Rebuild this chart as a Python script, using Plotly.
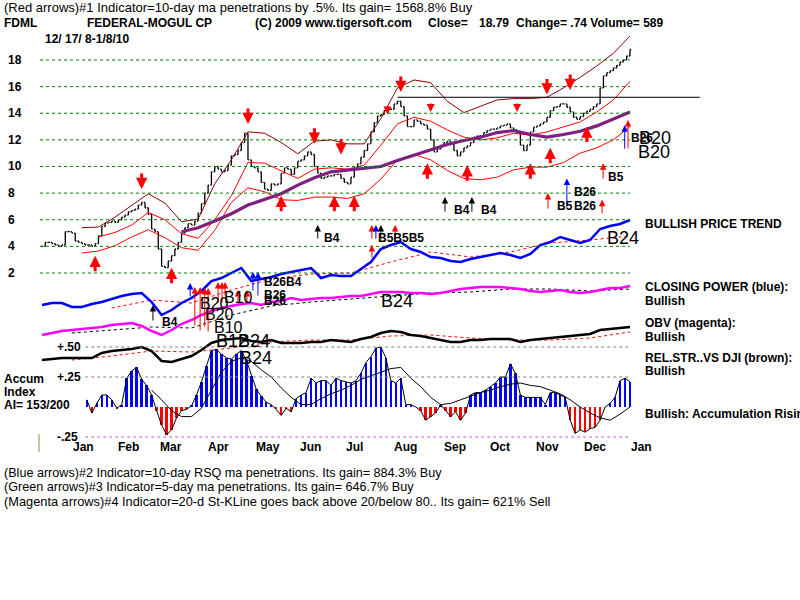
import plotly.graph_objects as go

# ------------------------------------------------------------------ DATA
# daily closes (one bar per sample), Dec-2008 .. Jan-2010
closes = [
    4.0, 4.3, 4.3, 4.2, 4.1, 4.0, 4.1, 5.1, 5.1, 5.0,
    4.4, 4.3, 4.2, 4.1, 4.1, 4.0, 4.2, 4.8, 5.5, 5.75,
    5.8, 5.9, 5.8, 6.0, 6.2, 6.35, 6.6, 6.7, 6.8, 7.1,
    7.3, 6.9, 6.4, 5.3, 5.1, 3.8, 2.5, 2.4, 2.9, 3.3,
    3.8, 4.3, 5.0, 5.4, 5.7, 5.6, 5.9, 6.5, 7.2, 8.0,
    8.6, 9.6, 10.0, 9.8, 9.6, 9.7, 10.1, 10.8, 10.9, 11.2,
    11.8, 12.5,
    10.5, 10.0, 9.9, 9.6, 8.8, 8.3, 8.2, 8.7, 8.6, 8.7,
    9.5, 9.9, 9.8, 9.4, 9.9, 10.4, 10.5, 10.8, 11.1, 10.9,
    10.0, 9.5, 9.1, 9.2, 9.3, 9.3, 9.4, 9.4, 9.1, 8.8,
    8.7, 9.2, 9.8, 10.2, 10.7, 11.2, 11.7, 12.6, 13.3, 13.8,
    13.9, 14.2, 14.3, 14.3, 14.7, 14.9, 14.5, 13.8, 13.0, 13.0,
    13.5, 13.4, 13.2, 13.1, 12.8, 12.0,
    11.1, 11.3, 11.6, 11.8, 11.9, 11.7, 11.2, 10.8, 11.1, 11.4,
    11.55, 11.8, 12.2, 12.3, 12.3, 12.55, 12.7, 12.8, 12.8, 12.9,
    13.05, 13.1, 13.2, 12.9, 12.75, 12.5, 11.6, 11.2, 11.6, 12.6,
    12.95, 13.05, 13.2, 13.35, 13.7, 14.2, 14.45, 14.5, 14.7, 14.7,
    14.45, 14.1, 13.7, 13.55, 13.75, 14.0, 14.15, 14.3, 14.5, 14.7,
    15.9, 16.8, 17.05, 17.2, 17.4, 17.6, 17.85, 18.0, 18.3, 18.79,
]

# bands / moving averages, sampled every 5 bars starting at bar 12
band_start, band_step = 12, 5
upper_band = [5.4, 5.45, 6.2, 7.05, 7.95, 7.25, 5.85, 6.05, 8.7, 10.5,
              12.6, 12.5, 11.8, 10.95, 11.9, 12.0, 11.7, 11.7, 13.6, 15.9,
              16.5, 16.3, 14.9, 14.05, 14.5, 15.0, 15.1, 15.1, 15.2, 15.9,
              16.7, 17.55, 18.5, 19.8]
mid_band = [None, 4.7, 5.05, 5.6, 6.55, 6.0, 4.95, 4.6, 6.0, 7.8,
            10.3, 10.25, 9.65, 9.1, 9.8, 9.9, 9.8, 10.1, 11.6, 13.2,
            13.7, 13.4, 12.75, 12.2, 12.0, 12.15, 12.5, 12.35, 12.6, 13.0,
            13.35, 14.1, 15.0, 16.4]
lower_band = [3.5, 3.65, 4.05, 4.7, 5.25, 4.65, 3.9, 3.7, 5.2, 7.3,
              8.4, 8.1, 7.5, 7.45, 7.7, 7.7, 7.6, 7.95, 9.05, 10.5,
              10.9, 10.5, 9.7, 9.1, 9.0, 9.2, 9.75, 9.95, 9.95, 10.3,
              11.0, 11.4, 12.0, 13.0]
ma50 = [None, None, None, None, None, None, 5.1, 5.4, 5.9, 6.45,
        7.1, 7.5, 7.95, 8.6, 9.15, 9.6, 9.75, 9.85, 10.0, 10.45,
        10.85, 11.25, 11.65, 11.95, 12.2, 12.55, 12.7, 12.4, 12.2, 12.4,
        12.65, 13.05, 13.6, 14.1]
resistance_level, resistance_start = 15.2, 107

# indicator lines, sampled every 3 bars from bar 0
ind_start, ind_step = 0, 3
closing_power = [3.0, 3.4, 3.4, 2.6, 2.6, 3.2, 3.6, 4.2, 4.8, 5.2,
                 5.4, 3.6, 1.0, 2.0, 3.4, 4.4, 5.8, 7.8, 8.4, 9.4,
                 10.4, 7.8, 8.2, 8.6, 9.2, 9.6, 10.0, 10.4, 8.4, 9.0,
                 8.8, 8.8, 10.2, 11.6, 14.2, 15.0, 15.6, 14.2, 13.6, 12.6,
                 12.4, 11.8, 11.6, 12.2, 12.6, 13.0, 13.4, 13.0, 12.4, 13.2,
                 15.0, 15.6, 16.6, 16.0, 15.4, 16.0, 18.2, 18.8, 19.2, 20.0]
obv = [1.0, 1.4, 1.8, 2.0, 2.2, 2.4, 2.6, 3.0, 3.2, 3.4,
       2.8, 1.8, 1.0, 2.0, 3.2, 4.0, 5.0, 5.8, 6.4, 6.8,
       7.2, 7.4, 7.0, 7.6, 7.8, 8.4, 8.0, 8.2, 8.4, 8.4,
       8.6, 8.8, 8.8, 9.2, 9.6, 9.6, 9.6, 9.4, 9.4, 9.2,
       9.4, 9.8, 10.2, 10.4, 10.6, 10.6, 10.6, 10.4, 10.2, 9.8,
       9.6, 9.8, 10.0, 9.6, 9.4, 9.6, 10.0, 10.4, 10.4, 10.8]
rel_strength = [2.0, 2.2, 2.4, 2.4, 2.4, 2.4, 3.4, 3.8, 4.0, 4.2,
                4.6, 3.8, 1.8, 1.6, 2.2, 2.8, 4.0, 5.4, 6.0, 6.2,
                6.4, 5.8, 5.6, 6.0, 5.4, 5.4, 5.4, 5.6, 5.6, 6.0,
                5.8, 5.6, 6.2, 6.6, 7.4, 7.8, 7.6, 7.0, 6.8, 6.4,
                6.0, 5.6, 5.6, 6.0, 6.0, 6.2, 6.2, 6.2, 5.6, 6.0,
                6.2, 6.4, 6.6, 6.8, 7.0, 7.2, 8.0, 8.2, 8.4, 8.6]

# indicator moving averages, every 12 bars from bar 9
ima_start, ima_step = 9, 12
closing_power_ma = [None, 2.4, 4.0, 3.4, 6.0, 8.2, 9.2, 9.4, 11.6, 13.6, 12.6, 13.6, 15.4, 16.0, 16.8]
obv_ma = [1.4, 2.0, 2.6, 2.4, 5.0, 6.8, 7.6, 8.2, 8.8, 9.4, 9.6, 10.2, 10.2, 9.8, 10.2]
rel_strength_ma = [2.0, 2.8, 3.8, 3.6, 4.4, 5.6, 6.0, 6.0, 6.8, 7.0, 6.4, 6.0, 6.0, 6.4, 7.6]

# accumulation index, every 1.5 bars from bar 13.5
acc_start, acc_step = 13.5, 1.5
accum = [0.06, -0.05, 0.03, 0.10, 0.10, 0.06, -0.01, 0.02, 0.24, 0.30,
         0.33, 0.23, 0.18, 0.10, -0.03, -0.15, -0.23, -0.19, -0.09, -0.03,
         -0.02, 0.01, 0.10, 0.21, 0.34, 0.47, 0.48, 0.44, 0.41, 0.40,
         0.44, 0.47, 0.39, 0.26, 0.15, 0.09, 0.04, 0.02, -0.02, -0.07,
         -0.01, -0.04, 0.07, 0.10, 0.12, 0.24, 0.20, 0.22, 0.22, 0.18,
         0.24, 0.22, 0.21, 0.20, 0.22, 0.28, 0.37, 0.42, 0.49, 0.50,
         0.41, 0.22, 0.20, 0.24, 0.02, 0.02, 0.00, -0.03, -0.11, -0.08,
         -0.05, 0.02, -0.03, -0.08, -0.04, -0.11, -0.05, 0.10, 0.12, 0.12,
         0.14, 0.17, 0.20, 0.25, 0.25, 0.36, 0.28, 0.10, 0.08, 0.08,
         0.08, 0.08, 0.02, 0.12, 0.12, 0.10, 0.08, -0.11, -0.22, -0.19,
         -0.21, -0.18, -0.17, -0.11, 0.00, 0.03, 0.08, 0.22, 0.24, 0.21]
accma_start, accma_step = 33, 3
accum_ma = [0.14, 0.06, -0.03, -0.08, -0.08, -0.01, 0.14, 0.29, 0.38, 0.41,
            0.38, 0.31, 0.25, 0.16, 0.08, 0.02, 0.02, 0.07, 0.11, 0.14,
            0.18, 0.23, 0.26, 0.29, 0.32, 0.33, 0.24, 0.17, 0.08, 0.02,
            0.03, 0.06, 0.09, 0.12, 0.14, 0.17, 0.19, 0.20, 0.18, 0.17,
            0.14, 0.11, 0.06, 0.00, -0.05, -0.09, -0.11, -0.06, 0.00]

# axis labels
price_ticks = [18, 16, 14, 12, 10, 8, 6, 4, 2]
month_labels = ["Jan", "Feb", "Mar", "Apr", "May", "Jun", "Jul", "Aug", "Sep", "Oct", "Nov", "Dec", "Jan"]
month_pos = [12.6, 25.9, 38.8, 53, 68, 80.7, 94.2, 109.3, 124.3, 137.9, 152.3, 166.5, 180.6]
accum_levels = [0.50, 0.25, -0.25]
accum_level_labels = ["+.50", "+.25", "-.25"]

# signals: (bar, price)
buy_signals = [(16, 3.3), (39, 2.4), (72, 7.8), (88, 7.8), (94, 7.8), (116, 10.25),
               (128, 10.1), (147, 10.25), (153, 11.4), (164, 13.0)]
sell_signals = [(30, 8.3), (62, 13.2), (82, 11.7), (90, 10.9), (108, 15.6), (152, 15.4), (159, 15.75)]
minor_sells = [(104, 13.9), (117, 14.1), (143, 14.1)]
# (bar, price, colour, length px)
price_marks = [(83, 5.6, "black", 15), (99.3, 5.6, "red", 15), (100.5, 5.6, "blue", 15),
               (102, 5.6, "black", 15), (106.3, 5.6, "red", 15), (121.3, 7.7, "black", 16),
               (129.4, 7.7, "black", 16), (152.3, 8.0, "red", 17), (158, 9.1, "blue", 30),
               (168.6, 7.5, "red", 15), (168.9, 10.25, "red", 17), (176.4, 13.5, "red", 30),
               (175.4, 13.1, "blue", 25), (99.3, 4.1, "red", 14)]
# (bar, closing-power value, colour, length px)
ind_marks = [(33.4, 3.0, "black", 17), (44.6, 7.4, "blue", 15), (46, 6.6, "red", 40),
             (47.6, 6.6, "red", 45), (49, 6.4, "red", 40), (50, 6.4, "red", 45),
             (53, 7.6, "red", 22), (54.2, 7.6, "red", 22), (55.1, 7.6, "red", 15),
             (59, 6.0, "red", 15), (61.7, 6.0, "red", 15), (63.5, 9.6, "blue", 20),
             (65, 9.6, "blue", 25)]

# ------------------------------------------------------------------ FIGURE
FONT = "Liberation Sans"
N = len(closes)
bars = list(range(N))
opens = [closes[0]] + closes[:-1]
highs = [max(o, c) for o, c in zip(opens, closes)]
lows = [min(o, c) for o, c in zip(opens, closes)]


def xs(start, step, n):
    return [start + step * k for k in range(n)]


fig = go.Figure()

# price panel
fig.add_trace(go.Ohlc(x=bars, open=opens, high=highs, low=lows, close=closes,
                      increasing_line_color="black", decreasing_line_color="black",
                      line_width=1.3, tickwidth=0.35, xaxis="x", yaxis="y"))
bx = xs(band_start, band_step, len(upper_band))
fig.add_trace(go.Scatter(x=bx, y=upper_band, mode="lines", line=dict(color="#8B0000", width=1)))
fig.add_trace(go.Scatter(x=bx, y=mid_band, mode="lines", line=dict(color="#FF0000", width=1)))
fig.add_trace(go.Scatter(x=bx, y=lower_band, mode="lines", line=dict(color="#FF0000", width=1)))
fig.add_trace(go.Scatter(x=bx, y=ma50, mode="lines", line=dict(color="#7F1F80", width=3.2)))

# indicator lines
ix = xs(ind_start, ind_step, len(closing_power))
mx = xs(ima_start, ima_step, len(obv_ma))
fig.add_trace(go.Scatter(x=mx, y=closing_power_ma, mode="lines", yaxis="y2",
                         line=dict(color="#FF0000", width=1, dash="dot")))
fig.add_trace(go.Scatter(x=ix, y=closing_power, mode="lines", yaxis="y2",
                         line=dict(color="#0000FF", width=2.5)))
fig.add_trace(go.Scatter(x=mx, y=obv_ma, mode="lines", yaxis="y3",
                         line=dict(color="black", width=1, dash="dot")))
fig.add_trace(go.Scatter(x=ix, y=obv, mode="lines", yaxis="y3",
                         line=dict(color="#FF00FF", width=2.5)))
fig.add_trace(go.Scatter(x=mx, y=rel_strength_ma, mode="lines", yaxis="y4",
                         line=dict(color="#FF0000", width=1, dash="dot")))
fig.add_trace(go.Scatter(x=ix, y=rel_strength, mode="lines", yaxis="y4",
                         line=dict(color="black", width=2.5)))

# accumulation index
ax_ = xs(acc_start, acc_step, len(accum))
fig.add_trace(go.Bar(x=ax_, y=accum, yaxis="y5", width=0.75,
                     marker=dict(color=["#0000FF" if v >= 0 else "#FF0000" for v in accum],
                                 line=dict(width=0))))
fig.add_trace(go.Scatter(x=ax_, y=accum, mode="lines", yaxis="y5",
                         line=dict(color="black", width=1)))
fig.add_trace(go.Scatter(x=xs(accma_start, accma_step, len(accum_ma)), y=accum_ma,
                         mode="lines", yaxis="y5", line=dict(color="black", width=1)))

shapes = []
# price grid
for p in price_ticks:
    shapes.append(dict(type="line", xref="paper", yref="y", x0=40 / 800, x1=630 / 800, y0=p, y1=p,
                       line=dict(color="#008000", width=1, dash="dot")))
# accum reference lines
for lv, col in zip(accum_levels, ["#808080", "#808080", "#C060C0"]):
    shapes.append(dict(type="line", xref="x", yref="y5", x0=acc_start - 0.5, x1=N - 1, y0=lv, y1=lv,
                       line=dict(color=col, width=1, dash="dot")))
# resistance line
shapes.append(dict(type="line", xref="x", yref="y", x0=resistance_start, x1=198,
                   y0=resistance_level, y1=resistance_level, line=dict(color="black", width=1)))
# small olive marker at left
shapes.append(dict(type="line", xref="paper", yref="paper", x0=39 / 800, x1=39 / 800,
                   y0=1 - 434 / 600, y1=1 - 452 / 600, line=dict(color="#9A8A30", width=1)))

ann = []


def label(x, y, s, size=12, bold=False, color="black", xanchor="left"):
    ann.append(dict(x=x / 800, y=1 - y / 600, xref="paper", yref="paper",
                    text=f"<b>{s}</b>" if bold else s, showarrow=False,
                    xanchor=xanchor, yanchor="middle",
                    font=dict(family=FONT, size=size, color=color)))


def arrow(x, y, yref, length, color, width, head, size, up=True):
    ann.append(dict(x=x, y=y, xref="x", yref=yref, text="", showarrow=True,
                    ax=0, ay=length if up else -length, arrowcolor=color,
                    arrowwidth=width, arrowhead=head, arrowsize=size))


for b, p in buy_signals:
    arrow(b, p, "y", 17, "#FF0000", 3, 2, 0.75, up=True)
for b, p in sell_signals:
    arrow(b, p, "y", 17, "#FF0000", 3, 2, 0.75, up=False)
for b, p in minor_sells:
    arrow(b, p, "y", 10, "#FF0000", 2, 2, 0.8, up=False)
for b, p, c, L in price_marks:
    arrow(b, p, "y", L, c, 1, 2, 1.3, up=True)
for b, v, c, L in ind_marks:
    arrow(b, v, "y2", L, c, 1, 2, 1.3, up=True)

# header
label(2, 8, "(Red arrows)#1 Indicator=10-day ma penetrations by .5%. Its gain= 1568.8% Buy", 13)
label(2, 23, "FDML", 12, True)
label(85, 23, "FEDERAL-MOGUL CP", 12, True)
label(253, 23, "(C) 2009 www.tigersoft.com", 12, True)
label(426, 23, "Close=", 12, True)
label(477, 23, "18.79", 12, True)
label(514, 23, "Change= .74 Volume= 589", 12, True)
label(43, 39, "12/ 17/ 8-1/8/10", 12, True)

# price labels
for p in price_ticks:
    ann.append(dict(x=6 / 800, y=p, xref="paper", yref="y", text=f"<b>{p}</b>", showarrow=False,
                    xanchor="left", yanchor="middle", font=dict(family=FONT, size=12, color="black")))
# month labels
for m, pos in zip(month_labels, month_pos):
    ann.append(dict(x=pos, y=1 - 447 / 600, xref="x", yref="paper", text=f"<b>{m}</b>",
                    showarrow=False, xanchor="center", yanchor="middle",
                    font=dict(family=FONT, size=12, color="black")))
# accum level labels
for lv, t in zip(accum_levels, accum_level_labels):
    ann.append(dict(x=55 / 800, y=lv, xref="paper", yref="y5", text=f"<b>{t}</b>", showarrow=False,
                    xanchor="left", yanchor="middle", font=dict(family=FONT, size=12, color="black")))

label(2, 379, "Accum", 12, True)
label(2, 392, "Index", 12, True)
label(2, 405, "AI= 153/200", 12, True)

# right side labels
label(643, 224, "BULLISH PRICE TREND", 12, True)
label(643, 287, "CLOSING POWER (blue):", 12, True)
label(643, 301, "Bullish", 12, True)
label(643, 323, "OBV (magenta):", 12, True)
label(643, 337, "Bullish", 12, True)
label(643, 358, "REL.STR..VS DJI (brown):", 12, True)
label(643, 371, "Bullish", 12, True)
label(643, 414, "Bullish: Accumulation Rising", 12, True)

# signal tags
label(322, 238, "B4", 12, True)
label(376, 238, "B5B5B5", 12, True)
label(452, 210, "B4", 12, True)
label(479, 210, "B4", 12, True)
label(555, 206, "B5", 12, True)
label(572, 192, "B26", 12, True)
label(572, 206, "B26", 12, True)
label(606, 177, "B5", 12, True)
label(629, 138, "B26", 12, True)
label(637, 138, "B20", 18)
label(636, 152, "B20", 18)
label(605, 238, "B24", 18)
label(379, 301, "B24", 18)
label(160, 322, "B4", 12, True)
label(262, 282, "B26B4", 12, True)
label(262, 295, "B26", 12, True)
label(262, 301, "B26", 12, True)
label(198, 303, "B20", 16)
label(222, 297, "B10", 16)
label(203, 314, "B20", 16)
label(212, 327, "B10", 16)
label(214, 341, "B12", 18)
label(236, 341, "B24", 18)
label(238, 358, "B24", 18)

label(2, 473, "(Blue arrows)#2 Indicator=10-day RSQ ma penetrations. Its gain= 884.3% Buy", 12.6)
label(2, 487, "(Green arrows)#3 Indicator=5-day ma penetrations. Its gain= 646.7% Buy", 12.6)
label(2, 501, "(Magenta arrows)#4 Indicator=20-d St-KLine goes back above 20/below 80.. Its gain= 621% Sell", 12.8)

hidden = dict(visible=False, fixedrange=True)
fig.update_layout(
    width=800, height=600, margin=dict(l=0, r=0, t=0, b=0),
    paper_bgcolor="white", plot_bgcolor="white", showlegend=False,
    xaxis=dict(range=[-12.643, 228.17], visible=False, rangeslider=dict(visible=False)),
    yaxis=dict(range=[-22.57, 22.508], **hidden),
    yaxis2=dict(range=[-56, 64], overlaying="y", **hidden),
    yaxis3=dict(range=[-52, 68], overlaying="y", **hidden),
    yaxis4=dict(range=[-46, 74], overlaying="y", **hidden),
    yaxis5=dict(range=[-1.6083, 3.3917], overlaying="y", **hidden),
    bargap=0, shapes=shapes, annotations=ann,
)

fig.write_html("out.html")
